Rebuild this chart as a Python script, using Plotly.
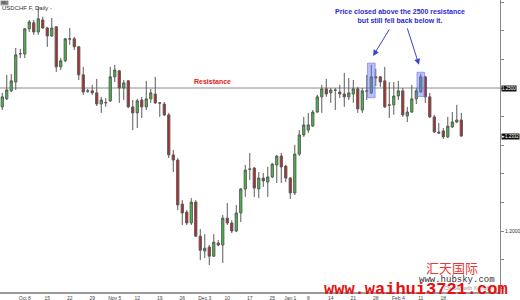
import plotly.graph_objects as go

# ---- data (USDCHF daily) ----
OPEN = [1.2434,1.2462,1.2490,1.2521,1.2619,1.2619,1.2707,1.2728,1.2696,1.2738,
        1.2710,1.2682,1.2714,1.2574,1.2595,1.2672,1.2672,1.2644,1.2546,1.2490,
        1.2490,1.2483,1.2444,1.2448,1.2455,1.2539,1.2560,1.2500,1.2525,1.2434,
        1.2413,1.2458,1.2434,1.2462,1.2479,1.2448,1.2444,1.2406,1.2266,1.2248,
        1.2094,1.2066,1.2028,1.2101,1.1982,1.1930,1.1944,1.1912,1.1958,1.1951,
        1.2045,1.2028,1.2000,1.2063,1.2147,1.2217,1.2220,1.2147,1.2185,1.2171,
        1.2189,1.2231,1.2262,1.2227,1.2185,1.2133,1.2269,1.2336,1.2353,1.2367,
        1.2416,1.2469,1.2497,1.2483,1.2493,1.2486,1.2479,1.2469,1.2479,1.2497,
        1.2423,1.2490,1.2483,1.2535,1.2539,1.2525,1.2441,1.2441,1.2472,1.2490,
        1.2402,1.2416,1.2462,1.2486,1.2539,1.2469,1.2399,1.2346,1.2350,1.2329,
        1.2364,1.2381,1.2388]
HIGH = [1.2483,1.2546,1.2549,1.2640,1.2637,1.2710,1.2738,1.2738,1.2784,1.2749,
        1.2714,1.2745,1.2717,1.2605,1.2675,1.2710,1.2679,1.2647,1.2574,1.2497,
        1.2511,1.2532,1.2469,1.2465,1.2574,1.2581,1.2563,1.2528,1.2528,1.2458,
        1.2462,1.2469,1.2525,1.2497,1.2539,1.2451,1.2451,1.2413,1.2283,1.2255,
        1.2108,1.2073,1.2115,1.2108,1.2007,1.1989,1.1951,1.1989,1.1968,1.2056,
        1.2098,1.2038,1.2091,1.2150,1.2231,1.2273,1.2224,1.2206,1.2203,1.2224,
        1.2238,1.2266,1.2273,1.2231,1.2189,1.2301,1.2353,1.2399,1.2413,1.2423,
        1.2476,1.2511,1.2532,1.2500,1.2500,1.2511,1.2553,1.2535,1.2528,1.2504,
        1.2500,1.2546,1.2581,1.2567,1.2542,1.2574,1.2521,1.2521,1.2525,1.2500,
        1.2434,1.2511,1.2500,1.2549,1.2542,1.2483,1.2406,1.2378,1.2360,1.2399,
        1.2416,1.2441,1.2413]
LOW = [1.2423,1.2458,1.2486,1.2493,1.2605,1.2605,1.2696,1.2686,1.2686,1.2707,
       1.2644,1.2679,1.2556,1.2563,1.2591,1.2651,1.2633,1.2528,1.2476,1.2483,
       1.2476,1.2437,1.2413,1.2434,1.2451,1.2521,1.2448,1.2458,1.2430,1.2353,
       1.2360,1.2395,1.2423,1.2448,1.2444,1.2399,1.2402,1.2255,1.2206,1.2073,
       1.2021,1.2021,1.2021,1.1979,1.1898,1.1905,1.1881,1.1909,1.1947,1.1888,
       1.2021,1.1993,1.1996,1.2031,1.2119,1.2178,1.2119,1.2115,1.2154,1.2119,
       1.2185,1.2168,1.2168,1.2171,1.2112,1.2126,1.2262,1.2329,1.2343,1.2364,
       1.2413,1.2413,1.2469,1.2448,1.2423,1.2465,1.2434,1.2458,1.2448,1.2413,
       1.2413,1.2458,1.2479,1.2507,1.2504,1.2430,1.2395,1.2406,1.2458,1.2399,
       1.2381,1.2413,1.2444,1.2483,1.2448,1.2395,1.2343,1.2339,1.2322,1.2325,
       1.2360,1.2378,1.2329]
CLOSE = [1.2469,1.2493,1.2525,1.2616,1.2620,1.2707,1.2731,1.2696,1.2742,1.2710,
         1.2682,1.2710,1.2574,1.2595,1.2672,1.2671,1.2644,1.2546,1.2486,1.2489,
         1.2483,1.2444,1.2458,1.2449,1.2539,1.2563,1.2500,1.2518,1.2434,1.2413,
         1.2455,1.2434,1.2462,1.2483,1.2448,1.2447,1.2406,1.2266,1.2248,1.2091,
         1.2063,1.2028,1.2101,1.1982,1.1933,1.1940,1.1912,1.1961,1.1951,1.2045,
         1.2028,1.2000,1.2063,1.2147,1.2213,1.2216,1.2150,1.2185,1.2175,1.2189,
         1.2234,1.2262,1.2224,1.2185,1.2133,1.2269,1.2336,1.2371,1.2371,1.2416,
         1.2469,1.2497,1.2479,1.2493,1.2492,1.2479,1.2469,1.2483,1.2497,1.2427,
         1.2490,1.2489,1.2539,1.2539,1.2521,1.2434,1.2440,1.2472,1.2490,1.2406,
         1.2416,1.2462,1.2490,1.2539,1.2469,1.2399,1.2346,1.2343,1.2329,1.2367,
         1.2381,1.2388,1.2332]

TICK_IDX = [5, 10, 15, 20, 25, 30, 35, 40, 45, 50, 55, 60, 64, 68, 73, 78, 83, 88, 93, 98]
TICK_LABELS = ["Oct 8", "15", "22", "29", "Nov 5", "12", "19", "26", "Dec 3", "10",
               "17", "25", "Jan 1", "8", "14", "21", "28", "Feb 4", "11", "18"]

RESISTANCE = 1.2500
HIGHLIGHT_IDX = [82, 93]
Y_TICKS = [1.18, 1.19, 1.20, 1.21, 1.22, 1.23, 1.24, 1.25, 1.26, 1.27, 1.28]
Y_LABELS = ["", "", "1.2000", "", "", "", "", "", "", "", ""]

x = list(range(len(OPEN)))

fig = go.Figure()
fig.add_trace(go.Candlestick(
    x=x, open=OPEN, high=HIGH, low=LOW, close=CLOSE,
    increasing=dict(fillcolor="#3ec43e", line=dict(color="#5a5a5a", width=1)),
    decreasing=dict(fillcolor="#c42222", line=dict(color="#5a5a5a", width=1)),
    whiskerwidth=0, showlegend=False, hoverinfo="skip"))

shapes = [dict(type="line", xref="paper", x0=0, x1=1, yref="y", y0=RESISTANCE, y1=RESISTANCE,
               line=dict(color="#8a8a8a", width=1), layer="below")]
for i in HIGHLIGHT_IDX:
    shapes.append(dict(type="rect", xref="x", yref="y",
                       x0=i - 0.85, x1=i + 0.85,
                       y0=min(LOW[i], OPEN[i]) - 0.0013, y1=HIGH[i] + 0.0006,
                       fillcolor="rgba(105,115,235,0.45)",
                       line=dict(color="rgba(105,115,235,0.6)", width=1), layer="above"))

ann = []
ann.append(dict(text="<b>Resistance</b>", xref="paper", yref="y", x=212/500, y=RESISTANCE,
                xanchor="center", yanchor="bottom", yshift=1, showarrow=False,
                font=dict(family="Liberation Sans", size=7, color="#e02020")))
ann.append(dict(text="<b>Price closed above the 2500 resistance<br>but still fell back below it.</b>",
                xref="paper", yref="paper", x=400/500, y=1 - 16/292,
                xanchor="center", yanchor="middle", showarrow=False,
                font=dict(family="Liberation Sans", size=7, color="#2b2bd6")))
arrows = [(86.2, 1.2710, 82.4, 1.2612), (89.9, 1.2714, 92.6, 1.2581)]
for tx, ty, hx, hy in arrows:
    ann.append(dict(x=hx, y=hy, ax=tx, ay=ty, xref="x", yref="y", axref="x", ayref="y",
                    text="", showarrow=True, arrowhead=2, arrowsize=1.2, arrowwidth=1,
                    arrowcolor="#3b45c8"))
# price boxes on right axis
for val, txt in [(RESISTANCE, "1.2500"), (CLOSE[-1], "\u25b8" + f"{CLOSE[-1]:.4f}")]:
    ann.append(dict(text=txt, xref="paper", yref="y", x=1, y=val, xanchor="left",
                    yanchor="middle", xshift=1,
                    showarrow=False, bgcolor="#111111", borderpad=0,
                    font=dict(family="Liberation Sans", size=4.5, color="#ffffff")))
ann.append(dict(text="USDCHF F, Daily -", xref="paper", yref="paper", x=0, y=1, yshift=-3,
                xanchor="left", yanchor="top", showarrow=False,
                font=dict(family="Liberation Sans", size=6, color="#333333")))
ann.append(dict(text="GBU", xref="paper", yref="paper", x=0, y=1, xanchor="left", yanchor="top",
                showarrow=False, bgcolor="#9a9a9a", borderpad=0,
                font=dict(family="Liberation Sans", size=3, color="#222222")))
# watermarks
ann.append(dict(text="汇天国际", xref="paper", yref="paper", x=452/500, y=1 - 267/292,
                xanchor="center", yanchor="middle",
                showarrow=False, font=dict(family="Noto Sans CJK SC", size=13, color="#e43a3a")))
ann.append(dict(text="Created with X-Trader", xref="paper", yref="paper", x=468/500, y=1 - 288/292,
                xanchor="center", yanchor="middle",
                showarrow=False, font=dict(family="Liberation Sans", size=5, color="#999999")))
ann.append(dict(text="www.hubsky.com", xref="paper", yref="paper", x=457/500, y=1 - 280/292,
                xanchor="center", yanchor="middle",
                showarrow=False, font=dict(family="Liberation Mono", size=9, color="#333333")))
ann.append(dict(text="<b>www.waihui3721.com</b>", xref="paper", yref="paper", x=322/500,
                y=1 - 289/292, xanchor="left", yanchor="middle", showarrow=False,
                font=dict(family="Liberation Mono", size=17, color="#e41010")))

fig.update_layout(
    width=520, height=300, margin=dict(l=0, r=20, t=0, b=8),
    paper_bgcolor="white", plot_bgcolor="white",
    shapes=shapes, annotations=ann, showlegend=False,
    xaxis=dict(range=[-0.5, 110.6], rangeslider=dict(visible=False), showgrid=False,
               zeroline=False, tickvals=TICK_IDX, ticktext=TICK_LABELS, ticks="",
               showline=True, linecolor="#9a9a9a", linewidth=2,
               tickfont=dict(family="Liberation Sans", size=5, color="#444444")),
    yaxis=dict(range=[1.17867, 1.28077], side="right", showgrid=False, zeroline=False,
               tickvals=Y_TICKS, ticktext=Y_LABELS, ticks="outside", ticklen=3,
               tickcolor="#888888", showline=True, linecolor="#888888", linewidth=1,
               tickfont=dict(family="Liberation Sans", size=5, color="#333333")),
)

fig.write_html("out.html")
